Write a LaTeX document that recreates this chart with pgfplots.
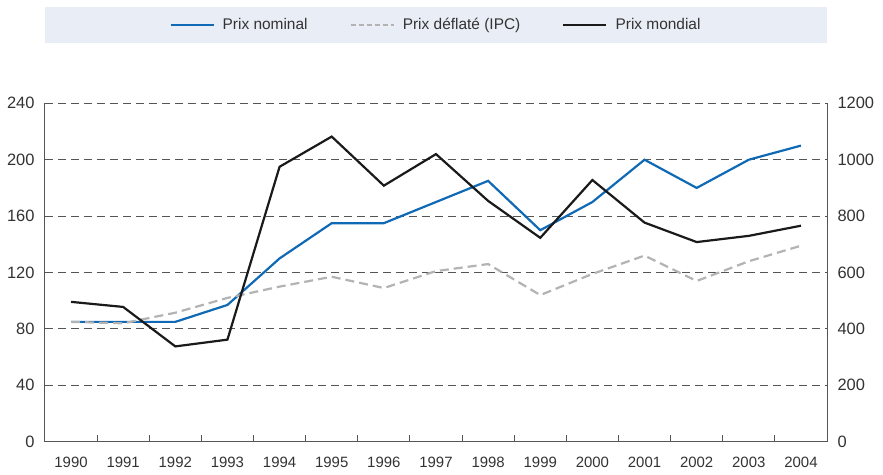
\documentclass[border=0pt]{standalone}
\usepackage{fontspec}
\setmainfont{Liberation Sans}
\usepackage{pgfplots}
\pgfplotsset{compat=1.18}

\definecolor{nomblue}{HTML}{0F69B4}
\definecolor{defgray}{HTML}{B3B3B3}
\definecolor{worldblk}{HTML}{1A1A1A}
\definecolor{legbg}{HTML}{E9EDF5}
\definecolor{axgray}{HTML}{555555}
\definecolor{txtgray}{HTML}{333333}

\begin{document}
\begin{tikzpicture}
% left axis: nominal and deflated prices
\begin{axis}[
    scale only axis,
    width=782bp, height=338.4bp,
    xmin=-0.5, xmax=14.5,
    ymin=0, ymax=240,
    axis x line*=bottom,
    axis y line*=left,
    axis line style={axgray, line width=1pt},
    xtick={0,...,14},
    xticklabels={1990,1991,1992,1993,1994,1995,1996,1997,1998,1999,2000,2001,2002,2003,2004},
    minor xtick={0.5,1.5,...,13.5},
    major tick length=0pt,
    minor tick length=7bp,
    tick align=inside,
    minor tick style={axgray, line width=1pt},
    ytick={0,40,...,240},
    ytick style={draw=none},
    ymajorgrids,
    major grid style={axgray, line width=1pt, dash pattern=on 8bp off 5bp},
    /pgf/number format/assume math mode=true,
    xticklabel style={font=\fontsize{15}{18}\selectfont, text=txtgray, yshift=-12bp},
    yticklabel style={font=\fontsize{16.5}{19}\selectfont, text=txtgray, xshift=-7bp},
    clip=false,
]
% legend background box
\fill[legbg] (rel axis cs:0,1.1782) rectangle (rel axis cs:1,1.2846);
% page extent
\path (rel axis cs:-0.0575,-0.0954) (rel axis cs:1.0716,1.3053);

% Prix nominal
\addplot[nomblue, line width=2.2bp] coordinates {
    (0,85) (1,85) (2,85) (3,97) (4,130) (5,155) (6,155) (7,170)
    (8,185) (9,150) (10,170) (11,200) (12,180) (13,200) (14,210)};
% Prix deflate (IPC)
\addplot[defgray, line width=2.2bp, dash pattern=on 9bp off 5bp] coordinates {
    (0,85) (1,84) (2,91.5) (3,102) (4,110) (5,117) (6,109) (7,121)
    (8,126) (9,104) (10,119) (11,132) (12,114) (13,128) (14,139)};
\end{axis}

% right axis: world price
\begin{axis}[
    scale only axis,
    width=782bp, height=338.4bp,
    xmin=-0.5, xmax=14.5,
    ymin=0, ymax=1200,
    axis x line=none,
    axis y line*=right,
    axis line style={axgray, line width=1pt},
    ytick={0,200,...,1200},
    ytick style={draw=none},
    /pgf/number format/assume math mode=true,
    /pgf/number format/1000 sep={},
    yticklabel style={font=\fontsize{16.5}{19}\selectfont, text=txtgray, xshift=7bp, anchor=west},
    legend columns=3,
    legend style={
        at={(rel axis cs:0.5,1.2314)}, anchor=center,
        draw=none, fill=none,
        font=\fontsize{15.5}{18}\selectfont, text=txtgray,
        /tikz/every odd column/.append style={column sep=6bp},
        /tikz/every even column/.append style={column sep=40bp},
    },
    legend image code/.code={\draw[#1] (0bp,0bp) -- (43bp,0bp);},
    clip=false,
]
\addlegendimage{nomblue, line width=2.2bp}
\addlegendentry{Prix nominal}
\addlegendimage{defgray, line width=2.2bp, dash pattern=on 5bp off 3bp}
\addlegendentry{Prix déflaté (IPC)}
% Prix mondial
\addplot[worldblk, line width=2.2bp] coordinates {
    (0,496) (1,478) (2,338) (3,362) (4,975) (5,1082) (6,908) (7,1020)
    (8,854) (9,723) (10,928) (11,777) (12,708) (13,730) (14,766)};
\addlegendentry{Prix mondial}
\end{axis}
\end{tikzpicture}
\end{document}
